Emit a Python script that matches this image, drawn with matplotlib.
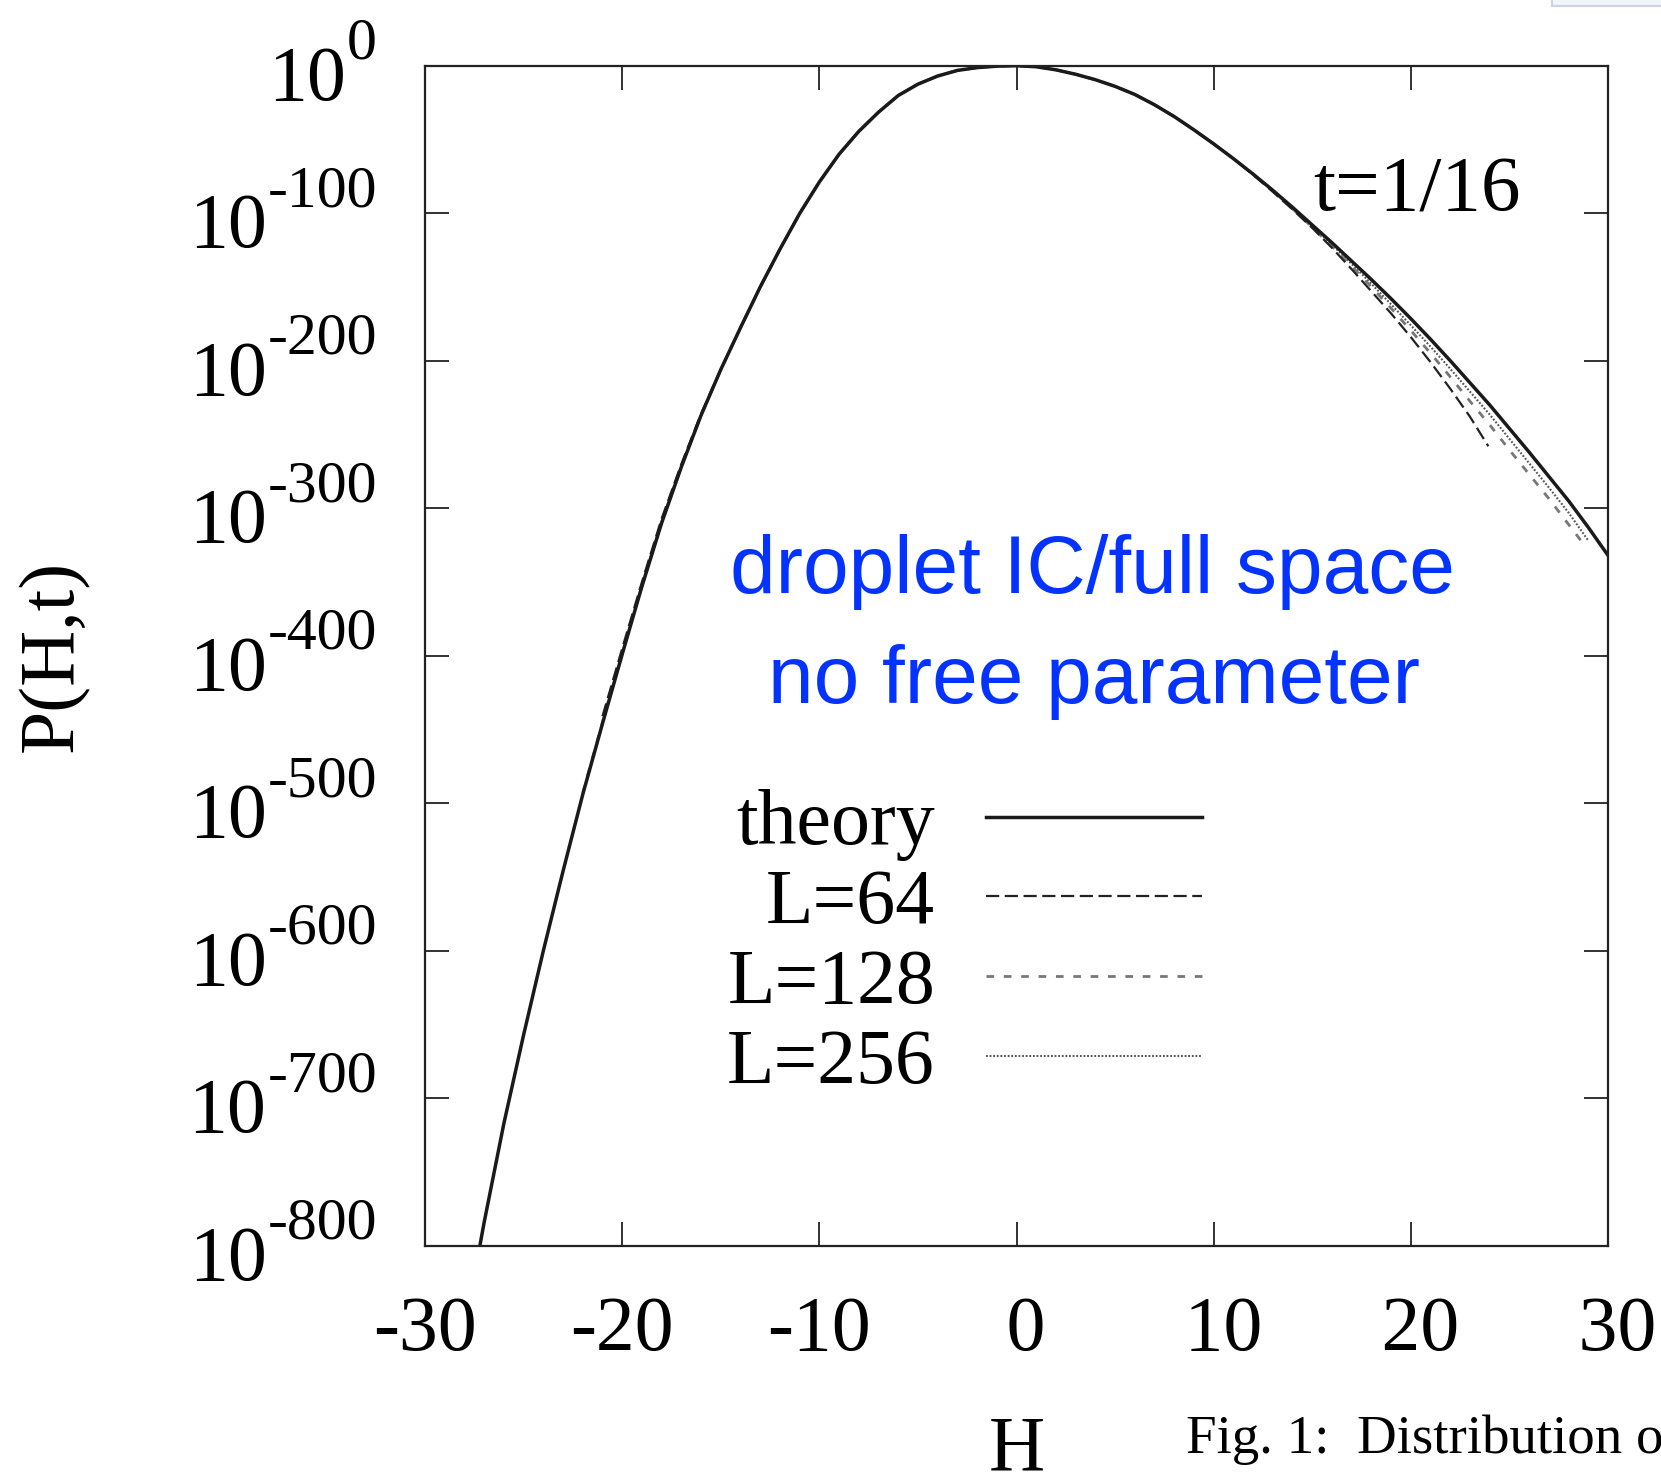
import matplotlib.pyplot as plt
from matplotlib.patches import Rectangle
from matplotlib.transforms import ScaledTranslation

plt.rcParams['font.family'] = ['Liberation Serif', 'DejaVu Serif']
plt.rcParams['axes.unicode_minus'] = False
plt.rcParams['lines.scale_dashes'] = False

# theory curve: H and log10 P(H,t)
h_theory = [-27.22, -27, -26, -25, -24, -23, -22, -21, -20, -19, -18, -17, -16, -15, -14, -13,
            -12, -11, -10, -9, -8, -7, -6, -5, -4, -3, -2, -1, 0,
            1, 2, 3, 4, 5, 6, 7, 8, 9, 10, 11, 12, 13, 14, 15, 16, 17, 18, 19, 20,
            21, 22, 23, 24, 25, 26, 27, 28, 29, 30]
logp_theory = [-800, -784, -717, -657, -600, -546, -494, -446, -399, -353, -310, -272, -237, -206, -177.6, -150,
               -124.4, -100.2, -78.8, -60, -44.5, -31.5, -20.2, -12.5, -7, -3.2, -1.3, -0.3, 0,
               -0.7, -2.8, -5.8, -9.5, -14, -19.5, -26.5, -34.5, -43.5, -53, -63, -73.5, -84.5, -96, -108, -120,
               -132.5, -145, -158, -171.5, -185.5, -200, -215, -230, -246, -262, -278.5, -295, -313, -332]

# simulations
h_l64 = [-21, -20, -19, -18, -17, -16, -15, -14, -13, -12, -11, -10, -9, -8, -7, -6, -5, -4, -3, -2, -1, 0,
         1, 2, 3, 4, 5, 6, 7, 8, 9, 10, 11, 12, 13, 14, 15, 16, 17, 18, 19, 20, 21, 22, 23, 23.93]
logp_l64 = [-441, -395, -350, -307, -270, -236, -206, -177.6, -150, -124.4, -100.2, -78.8, -60, -44.5, -31.5,
            -20.2, -12.5, -7, -3.2, -1.3, -0.3, 0,
            -0.7, -2.8, -5.8, -9.5, -14, -19.5, -26.5, -34.5, -43.5, -53, -63, -74, -85.5, -97.5, -110, -123.5,
            -138, -153, -168, -184, -201, -219, -238, -258]

h_l128 = [-22, -21, -20, -19, -18, -17, -16, -15, -14, -13, -12, -11, -10, -9, -8, -7, -6, -5, -4, -3, -2, -1, 0,
          1, 2, 3, 4, 5, 6, 7, 8, 9, 10, 11, 12, 13, 14, 15, 16, 17, 18, 19, 20, 21, 22, 23, 24, 25, 26,
          27, 28, 28.8]
logp_l128 = [-493, -445, -398, -352.5, -309.5, -271.5, -236.8, -206, -177.6, -150, -124.4, -100.2, -78.8, -60,
             -44.5, -31.5, -20.2, -12.5, -7, -3.2, -1.3, -0.3, 0,
             -0.7, -2.8, -5.8, -9.5, -14, -19.5, -26.5, -34.5, -43.5, -53, -63, -73.5, -84.5, -97, -109.5,
             -122.5, -136, -150, -164.5, -179.5, -195, -211, -227.5, -243.5, -260.5, -277, -293.5, -311, -325]

h_l256 = [-22, -21, -20, -19, -18, -17, -16, -15, -14, -13, -12, -11, -10, -9, -8, -7, -6, -5, -4, -3, -2, -1, 0,
          1, 2, 3, 4, 5, 6, 7, 8, 9, 10, 11, 12, 13, 14, 15, 16, 17, 18, 19, 20, 21, 22, 23, 24, 25, 26,
          27, 28, 29]
logp_l256 = [-494, -446, -398.5, -353, -310, -272, -237, -206, -177.6, -150, -124.4, -100.2, -78.8, -60,
             -44.5, -31.5, -20.2, -12.5, -7, -3.2, -1.3, -0.3, 0,
             -0.7, -2.8, -5.8, -9.5, -14, -19.5, -26.5, -34.5, -43.5, -53, -63, -73.5, -84.5, -96.5, -108.8,
             -121.3, -134.5, -147.8, -161.8, -176, -190.5, -205.5, -221, -236.5, -253, -269.5, -286, -303, -322]

x_ticks = [-30, -20, -10, 0, 10, 20, 30]
x_labels = ['-30', '-20', '-10', ' 0', ' 10', ' 20', ' 30']
y_ticks = [0, -100, -200, -300, -400, -500, -600, -700, -800]
y_exps = ['0', '-100', '-200', '-300', '-400', '-500', '-600', '-700', '-800']

fig = plt.figure(figsize=(16.61, 14.80), dpi=100)
ax = fig.add_axes([0.2559, 0.1583, 0.7122, 0.7973])

l256, = ax.plot(h_l256, logp_l256, color='#555555', lw=1.5, dashes=(1.3, 1.3), label='L=256')
l128, = ax.plot(h_l128, logp_l128, color='#777777', lw=2.0, dashes=(5.5, 7.0), label='L=128')
l64, = ax.plot(h_l64, logp_l64, color='#222222', lw=1.6, dashes=(9.5, 4.0), label='L=64')
lth, = ax.plot(h_theory, logp_theory, color='#1a1a1a', lw=2.5, label='theory')

ax.set_xlim(-30, 30)
ax.set_ylim(-800, 0)
ax.set_xticks(x_ticks)
ax.set_xticklabels(x_labels)
ax.set_yticks(y_ticks)
ax.set_yticklabels([])
ax.tick_params(direction='in', length=17, width=1.3, top=True, right=True, labelsize=56, color='#222222')
ax.tick_params(axis='x', pad=36)
for s in ax.spines.values():
    s.set_linewidth(1.6)
    s.set_color('#222222')

# y tick labels as 10 with a raised exponent
ytr = ax.get_yaxis_transform() + ScaledTranslation(0, 0.07, fig.dpi_scale_trans)
for v, e in zip(y_ticks, y_exps):
    t_exp = ax.text(-0.0406, v, e, transform=ytr, fontsize=43, ha='right', va='baseline')
    ax.annotate('10', xy=(0, 0), xycoords=t_exp, xytext=(-1, -28), textcoords='offset pixels',
                fontsize=56, ha='right', va='baseline', annotation_clip=False)

ax.set_xlabel('H', fontsize=56)
ax.xaxis.set_label_coords(0.5004, -0.1435)
ax.set_ylabel('P(H,t)', fontsize=56)
ax.yaxis.set_label_coords(-0.284, 0.5)

ax.text(0.7506, 0.8777, 't=1/16', transform=ax.transAxes, fontsize=57, ha='left', va='baseline')

blue = '#0433ff'
ax.text(0.5643, 0.5531, 'droplet IC/full space', transform=ax.transAxes, fontsize=59,
        family=['Liberation Sans', 'DejaVu Sans'], color=blue, ha='center', va='baseline')
ax.text(0.5655, 0.4599, 'no free parameter', transform=ax.transAxes, fontsize=59,
        family=['Liberation Sans', 'DejaVu Sans'], color=blue, ha='center', va='baseline')

ax.legend(handles=[lth, l64, l128, l256], loc='center', bbox_to_anchor=(0.456, 0.2555),
          frameon=False, fontsize=56, markerfirst=False, handlelength=2.77,
          handletextpad=0.66, labelspacing=0.105, borderpad=0, borderaxespad=0)

# caption fragment of the page, cut at the right edge
fig.text(0.714, 0.0182, 'Fig. 1:  Distribution of', fontsize=39.5, ha='left', va='baseline')

# bit of window chrome in the top right corner
fig.add_artist(Rectangle((0.9344, 0.996), 0.1, 0.01, transform=fig.transFigure,
                         facecolor='#f1f4f9', edgecolor='#c9d5e6', lw=1.5, clip_on=False))

fig.savefig('out.png', dpi=100)
